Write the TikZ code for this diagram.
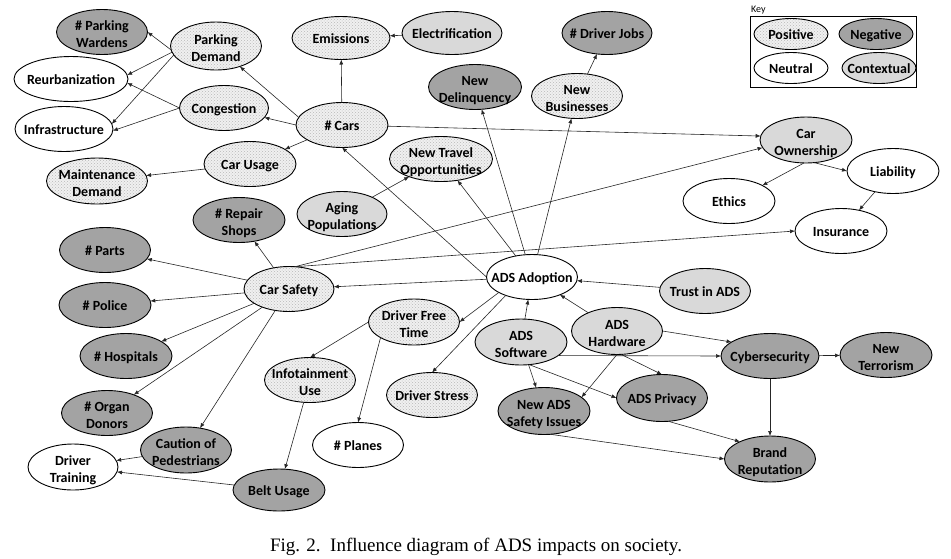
\documentclass[tikz,border=0pt]{standalone}
\usepackage{fontspec}
\setmainfont{Carlito}
\newfontfamily\capfont{Liberation Serif}
\usetikzlibrary{shapes.geometric,arrows.meta,patterns}
\definecolor{negc}{gray}{0.64}
\definecolor{ctxc}{gray}{0.85}
\definecolor{posc}{gray}{0.94}
\newcommand\lbl[1]{\raisebox{-0.44em}{\makebox[0pt]{\begin{tabular}{@{}c@{}}#1\end{tabular}}}}
\newcommand\lbltwo[1]{\raisebox{-0.54em}{\makebox[0pt]{\begin{tabular}{@{}c@{}}#1\end{tabular}}}}
\tikzset{
  bub/.style={ellipse, draw=black, line width=0.9pt, minimum width=91pt, minimum height=45pt,
    inner sep=0pt, outer sep=0pt, text height=0pt, text depth=0pt,
    font=\fontsize{14}{17}\selectfont\bfseries},
  posnode/.style={bub, preaction={fill=posc}, pattern=crosshatch dots, pattern color=gray!55},
  negnode/.style={bub, fill=negc},
  ctxnode/.style={bub, fill=ctxc},
  neunode/.style={bub, fill=white},
  keyell/.style={minimum width=74pt, minimum height=31pt},
  arr/.style={-{Latex[length=5pt,width=4pt]}, line width=0.6pt, draw=black!85},
}
\begin{document}
\begin{tikzpicture}[x=1pt,y=-1pt]
\useasboundingbox (0,0) rectangle (951,558);
% nodes
\node[negnode] (pw) at (102,32) {\lbltwo{\# Parking\\Wardens}};
\node[posnode, minimum height=48pt] (pd) at (216,46) {\lbltwo{Parking\\Demand}};
\node[neunode, minimum width=114pt] (reu) at (71,79) {\lbl{Reurbanization}};
\node[neunode, minimum width=98pt] (inf) at (64,129) {\lbl{Infrastructure}};
\node[posnode, minimum width=89pt] (con) at (224,108) {\lbl{Congestion}};
\node[posnode, minimum width=92pt] (cu) at (250,164) {\lbl{Car Usage}};
\node[posnode, minimum width=101pt, minimum height=46pt] (md) at (97,181) {\lbltwo{Maintenance\\Demand}};
\node[posnode, minimum width=98pt, minimum height=43pt] (emi) at (341,38) {\lbl{Emissions}};
\node[ctxnode, minimum width=100pt, minimum height=43pt] (ele) at (452,33) {\lbl{Electrification}};
\node[negnode, minimum width=90pt, minimum height=43pt] (dj) at (607,33) {\lbl{\# Driver Jobs}};
\node[negnode, minimum width=93pt] (nd) at (475,87) {\lbltwo{New\\Delinquency}};
\node[posnode] (nb) at (577,96) {\lbltwo{New\\Businesses}};
\node[posnode, minimum width=92pt] (cars) at (342,125) {\lbl{\# Cars}};
\node[posnode, minimum width=103pt] (nto) at (441,159) {\lbltwo{New Travel\\Opportunities}};
\node[ctxnode, minimum width=90pt] (ap) at (342,214) {\lbltwo{Aging\\Populations}};
\node[negnode, minimum width=92pt] (rs) at (239,220) {\lbltwo{\# Repair\\Shops}};
\node[posnode, minimum width=90pt] (cs) at (289,289) {\lbl{Car Safety}};
\node[negnode] (parts) at (105,250) {\lbl{\# Parts}};
\node[negnode, minimum width=92pt] (pol) at (105,305) {\lbl{\# Police}};
\node[negnode, minimum width=92pt] (hos) at (126,356) {\lbl{\# Hospitals}};
\node[negnode] (od) at (107,413) {\lbltwo{\# Organ\\Donors}};
\node[negnode, minimum height=46pt] (cop) at (186,450) {\lbltwo{Caution of\\Pedestrians}};
\node[neunode, minimum width=90pt, minimum height=46pt] (dt) at (73,467) {\lbltwo{Driver\\Training}};
\node[negnode, minimum width=92pt, minimum height=42pt] (belt) at (279,490) {\lbl{Belt Usage}};
\node[posnode] (info) at (310,380) {\lbltwo{Infotainment\\Use}};
\node[posnode, minimum height=46pt] (dft) at (414,322) {\lbltwo{Driver Free\\Time}};
\node[neunode] (pl) at (358,445) {\lbl{\# Planes}};
\node[posnode] (dst) at (432,395) {\lbl{Driver Stress}};
\node[neunode] (ads) at (532,277) {\lbl{ADS Adoption}};
\node[ctxnode, minimum width=92pt, minimum height=46pt] (sw) at (521,342) {\lbltwo{ADS\\Software}};
\node[ctxnode, minimum height=47pt] (hw) at (617,331) {\lbltwo{ADS\\Hardware}};
\node[ctxnode] (tr) at (705,291) {\lbl{Trust in ADS}};
\node[negnode, minimum width=92pt, minimum height=47pt] (nasi) at (544,411) {\lbltwo{New ADS\\Safety Issues}};
\node[negnode, minimum height=47pt] (priv) at (662,398) {\lbl{ADS Privacy}};
\node[negnode, minimum width=98pt] (cyb) at (770,356) {\lbl{Cybersecurity}};
\node[negnode, minimum width=92pt] (ter) at (886,355) {\lbltwo{New\\Terrorism}};
\node[negnode, minimum height=46pt] (br) at (770,459) {\lbltwo{Brand\\Reputation}};
\node[ctxnode, minimum width=92pt, minimum height=46pt] (co) at (806,140) {\lbltwo{Car\\Ownership}};
\node[neunode, minimum width=92pt] (lia) at (893,171) {\lbl{Liability}};
\node[neunode, minimum width=92pt] (eth) at (729,201) {\lbl{Ethics}};
\node[neunode, minimum width=92pt] (ins) at (841,231) {\lbl{Insurance}};
% key
\node[draw=black, line width=0.9pt, minimum width=166pt, minimum height=71pt, inner sep=0pt] (keybox) at (833,51.5) {};
\node[anchor=south west, inner sep=1pt, font=\fontsize{10}{12}\selectfont] (keylbl) at (750,15) {Key};
\node[posnode, keyell] (kpos) at (791,34) {\lbl{Positive}};
\node[negnode, keyell] (kneg) at (876,34) {\lbl{Negative}};
\node[neunode, keyell] (kneu) at (791,68) {\lbl{Neutral}};
\node[ctxnode, keyell] (kctx) at (879,68) {\lbl{Contextual}};
% edges
\draw[arr] (pd.185) -- (pw.east);
\draw[arr] (pd.188) -- (reu.4);
\draw[arr] (pd.192) -- (inf.6);
\draw[arr] (con.west) -- (reu.356);
\draw[arr] (con.west) -- (inf.358);
\draw[arr] (cars.170) -- (pd);
\draw[arr] (cars.180) -- (con);
\draw[arr] (cars) -- (cu);
\draw[arr] (cars) -- (emi);
\draw[arr] (ele) -- (emi);
\draw[arr] (cu) -- (md);
\draw[arr] (cars) -- (co.175);
\draw[arr] (cs.75) -- (co.190);
\draw[arr] (cs.75) -- (ins.west);
\draw[arr] (cs) -- (rs);
\draw[arr] (cs) -- (parts);
\draw[arr] (cs) -- (pol);
\draw[arr] (cs) -- (hos);
\draw[arr] (cs) -- (od);
\draw[arr] (cs) -- (cop);
\draw[arr] (cop) -- (dt);
\draw[arr] (belt) -- (dt);
\draw[arr] (ads.west) -- (cars.south);
\draw[arr] (ads) -- (nto);
\draw[arr] (ads) -- (nd);
\draw[arr] (ads) -- (nb);
\draw[arr] (nb) -- (dj);
\draw[arr] (ap) -- (nto);
\draw[arr] (ads) -- (cs);
\draw[arr] (ads.205) -- (dft.east);
\draw[arr] (ads.215) -- (dst.north);
\draw[arr] (tr) -- (ads);
\draw[arr] (sw) -- (ads);
\draw[arr] (hw) -- (ads);
\draw[arr] (dft.west) -- (info.north);
\draw[arr] (dft.205) -- (pl.north);
\draw[arr] (info) -- (belt);
\draw[arr] (co.265) -- (eth.25);
\draw[arr] (co.290) -- (lia.west);
\draw[arr] (lia) -- (ins);
\draw[arr] (hw.east) -- (cyb.160);
\draw[arr] (sw.340) -- (cyb.west);
\draw[arr] (sw) -- (nasi);
\draw[arr] (sw.290) -- (priv.west);
\draw[arr] (hw.south) -- (nasi.20);
\draw[arr] (hw.280) -- (priv.north);
\draw[arr] (cyb) -- (ter);
\draw[arr] (cyb) -- (br);
\draw[arr] (priv.285) -- (br.150);
\draw[arr] (nasi.285) -- (br.west);
% caption
\node[anchor=base, inner sep=0pt, font=\capfont\fontsize{19}{22}\selectfont] (cap) at (476,551) {Fig. 2.\ \ Influence diagram of ADS impacts on society.};
\end{tikzpicture}
\end{document}
